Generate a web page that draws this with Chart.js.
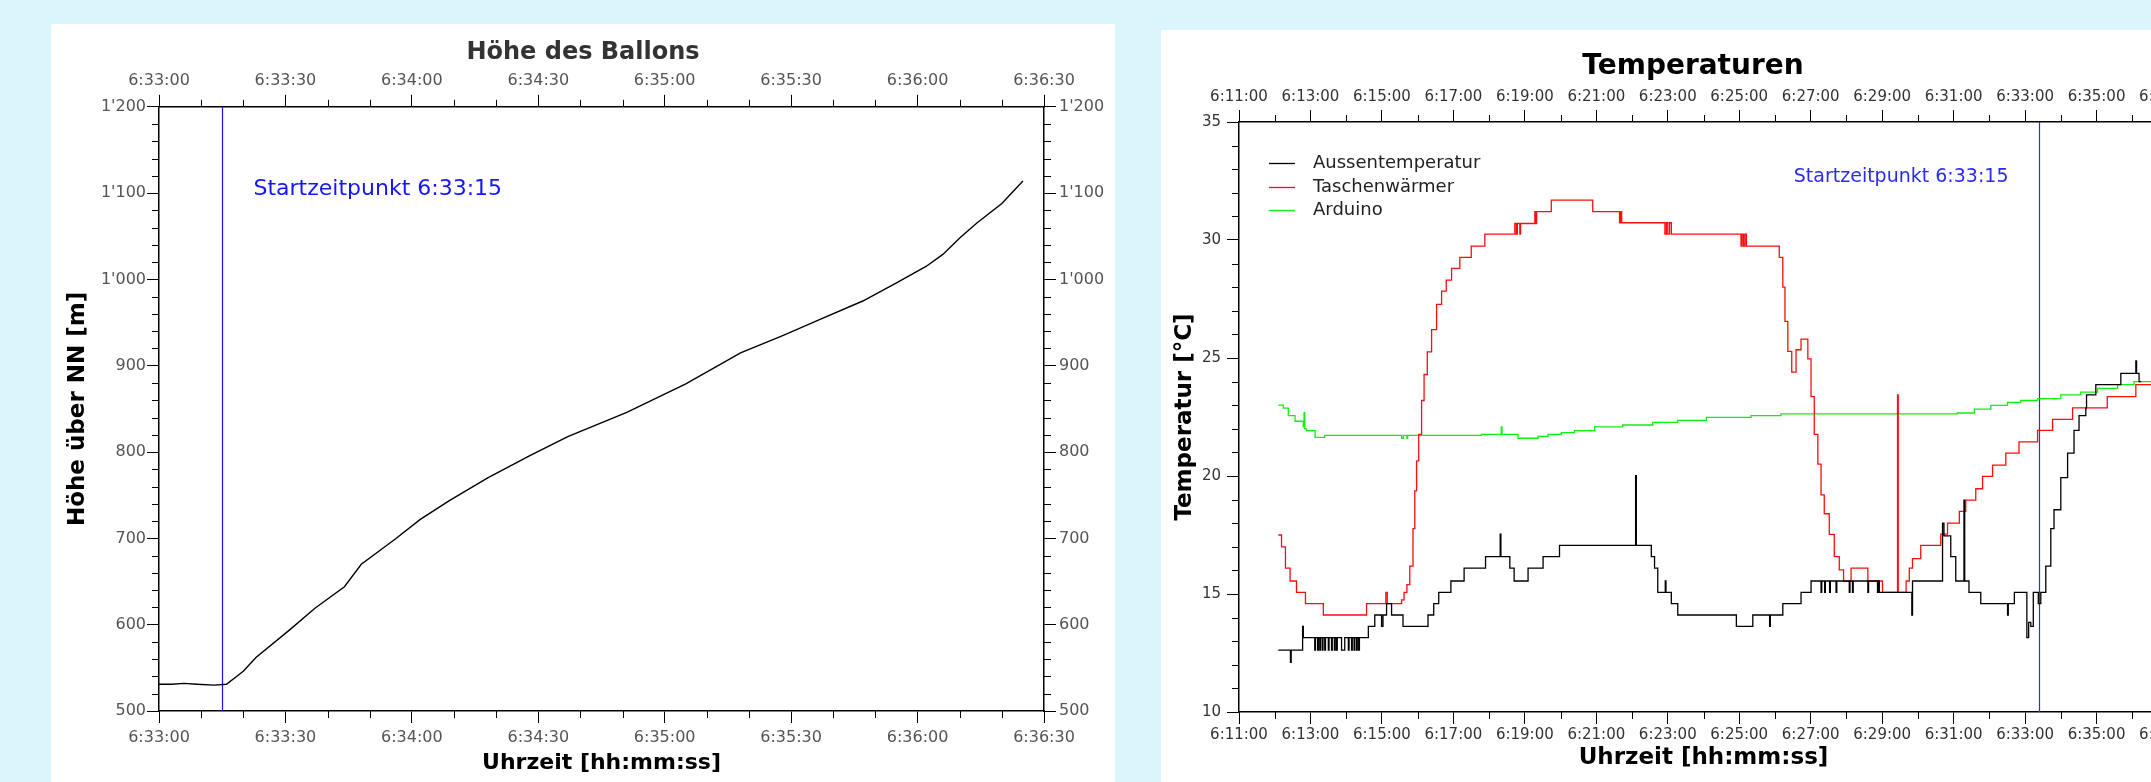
<!DOCTYPE html>
<html lang="de">
<head>
<meta charset="utf-8">
<title>Ballonflug</title>
<script src="https://cdn.jsdelivr.net/npm/chart.js@4.4.1/dist/chart.umd.min.js"></script>
<style>
html, body { margin: 0; padding: 0; width: 2151px; height: 782px; overflow: hidden; background: #dbf5fc; }
.panel { position: absolute; background: #fff; }
#p1 { left: 51px; top: 24px; width: 1064px; height: 758px; }
#p2 { left: 1161px; top: 30px; width: 1064px; height: 752px; }
canvas { display: block; }
</style>
</head>
<body>
<div class="panel" id="p1"><canvas id="hoeheChart" width="1064" height="758"></canvas></div>
<div class="panel" id="p2"><canvas id="tempChart" width="1064" height="752"></canvas></div>
<script>
// HÖHE DES BALLONS (Zeit in s nach 6:33:00)
const hoeheSek   = [0, 3, 6, 9, 13, 16, 20, 23, 31, 37, 44, 48, 56, 62, 69, 78, 88, 97, 111, 125, 138, 148, 157, 167, 175, 182, 186, 190, 194, 200, 205];
const hoeheMeter = [531, 531, 532, 531, 530, 531, 546, 562, 594, 619, 644, 670, 699, 722, 744, 770, 796, 818, 846, 879, 915, 935, 954, 975, 996, 1015, 1029, 1048, 1065, 1088, 1114];
const hoeheXTicks = ['6:33:00', '6:33:30', '6:34:00', '6:34:30', '6:35:00', '6:35:30', '6:36:00', '6:36:30'];
const hoeheYTicks = [500, 600, 700, 800, 900, 1000, 1100, 1200];
const startHoehe = '6:33:15';

// TEMPERATUREN ([Minuten nach 6:00, °C])
const aussentemperatur = [
  [12.10,12.62],[12.44,12.1],[12.46,12.62],[12.78,13.63],[12.8,13.15],
  [13.12,12.62],[13.14,13.15],[13.2,12.62],[13.22,13.15],[13.26,12.62],[13.28,13.15],[13.33,12.62],[13.35,13.15],
  [13.4,12.62],[13.42,13.15],[13.5,12.62],[13.52,13.15],[13.59,12.62],[13.61,13.15],[13.67,12.62],[13.69,13.15],
  [13.73,12.62],[13.75,13.15],[13.87,12.62],[13.96,13.15],[14.06,12.62],[14.08,13.15],[14.15,12.62],[14.17,13.15],
  [14.22,12.62],[14.24,13.15],[14.29,12.62],[14.31,13.15],[14.35,12.62],[14.37,13.15],
  [14.62,13.63],[14.8,14.11],[14.99,13.63],[15.03,14.11],[15.13,14.59],[15.27,14.11],[15.59,13.63],[16.29,14.11],
  [16.45,14.59],[16.59,15.07],[16.93,15.55],[17.3,16.1],[17.9,16.58],[18.31,17.54],[18.33,16.58],[18.58,16.1],
  [18.7,15.55],[19.09,16.1],[19.51,16.58],[19.97,17.06],[22.1,20.02],[22.12,17.06],[22.54,16.58],[22.63,16.1],
  [22.72,15.07],[22.93,15.55],[22.95,15.07],[23.1,14.59],[23.28,14.11],[24.92,13.63],[25.38,14.11],[25.85,13.63],
  [25.87,14.11],[26.22,14.59],[26.73,15.07],[27.01,15.55],[27.29,15.07],[27.31,15.55],[27.39,15.07],[27.41,15.55],
  [27.53,15.07],[27.55,15.55],[27.71,15.07],[27.73,15.55],[28.08,15.07],[28.1,15.55],[28.17,15.07],[28.19,15.55],
  [28.6,15.07],[28.62,15.55],[28.87,15.07],[28.89,15.55],[28.92,15.07],[29.83,14.11],[29.85,15.55],[30.69,18.0],
  [30.73,17.46],[30.92,16.58],[31.06,15.55],[31.29,18.98],[31.31,15.55],[31.43,15.07],[31.76,14.59],[32.51,14.11],
  [32.53,14.59],[32.7,15.07],[33.05,13.15],[33.1,13.8],[33.16,13.63],[33.23,15.07],[33.37,14.59],[33.44,15.07],
  [33.58,16.18],[33.72,17.77],[33.81,18.57],[34.0,19.93],[34.19,20.97],[34.37,21.93],[34.51,22.56],[34.7,22.89],
  [34.72,23.44],[34.98,23.87],[35.68,24.35],[36.1,24.88],[36.12,24.35],[36.19,24.0],[36.25,24.0]
];
const taschenwaermer = [
  [12.10,17.5],[12.19,17.0],[12.30,16.1],[12.43,15.55],[12.61,15.07],[12.86,14.59],[13.36,14.11],[14.57,14.59],
  [15.11,15.07],[15.15,14.59],[15.55,14.75],[15.62,15.07],[15.70,15.4],[15.78,16.18],[15.87,17.77],[15.92,19.37],
  [15.97,20.64],[16.03,21.76],[16.11,23.2],[16.18,24.3],[16.27,25.26],[16.39,26.2],[16.53,27.27],[16.67,27.83],
  [16.8,28.3],[16.95,28.8],[17.18,29.26],[17.5,29.74],[17.88,30.25],[18.72,30.7],[18.76,30.25],[18.79,30.7],
  [18.86,30.25],[18.88,30.7],[19.28,31.2],[19.31,30.7],[19.33,31.2],[19.74,31.69],[20.9,31.2],[21.65,30.73],
  [21.68,31.2],[21.71,30.73],[22.92,30.25],[22.96,30.73],[23.0,30.25],[23.05,30.73],[23.1,30.25],[25.05,29.74],
  [25.08,30.25],[25.12,29.74],[25.16,30.25],[25.2,29.74],[26.12,29.26],[26.22,28.0],[26.28,26.55],[26.36,25.28],
  [26.47,24.4],[26.59,25.35],[26.73,25.8],[26.92,24.96],[27.01,23.36],[27.1,21.76],[27.2,20.5],[27.29,19.2],
  [27.38,18.4],[27.52,17.53],[27.66,16.58],[27.8,16.02],[27.92,15.54],[28.13,16.1],[28.6,15.55],[29.01,15.07],
  [29.43,23.44],[29.45,15.07],[29.67,15.55],[29.76,16.1],[29.85,16.5],[30.08,17.06],[30.64,17.54],[30.83,18.0],
  [31.16,18.5],[31.34,18.98],[31.62,19.46],[31.81,19.98],[32.09,20.46],[32.46,20.97],[32.83,21.45],[33.35,21.93],
  [33.77,22.4],[34.33,22.89],[35.3,23.36],[36.1,23.87],[36.6,23.87]
];
const arduino = [
  [12.10,23.0],[12.24,22.88],[12.38,22.56],[12.57,22.32],[12.8,22.08],[12.82,22.68],[12.84,22.0],[12.89,21.92],
  [13.13,21.64],[13.4,21.72],[15.55,21.6],[15.6,21.72],[15.7,21.6],[15.72,21.72],[17.78,21.76],[18.34,22.08],
  [18.36,21.76],[18.81,21.6],[19.37,21.68],[19.65,21.76],[20.02,21.84],[20.39,21.92],[20.95,22.08],[21.74,22.16],
  [22.58,22.27],[23.28,22.36],[24.08,22.48],[25.33,22.56],[26.17,22.63],[31.11,22.67],[31.58,22.83],[32.04,22.99],
  [32.51,23.12],[32.88,23.2],[33.35,23.28],[34.0,23.44],[34.56,23.55],[35.03,23.71],[35.59,23.87],[36.05,24.0],
  [36.6,24.06]
];
const tempXTicks = ['6:11:00', '6:13:00', '6:15:00', '6:17:00', '6:19:00', '6:21:00', '6:23:00', '6:25:00',
  '6:27:00', '6:29:00', '6:31:00', '6:33:00', '6:35:00', '6:37:00'];
const tempYTicks = [10, 15, 20, 25, 30, 35];
const startTempMin = 33.38;

const FONT = '"DejaVu Sans", sans-serif';

function sekunden(txt) {
  const [h, m, s] = txt.split(':').map(Number);
  return h * 3600 + m * 60 + s;
}
function zeit(sek) {
  const h = Math.floor(sek / 3600), m = Math.floor(sek % 3600 / 60), s = Math.round(sek % 60);
  return h + ':' + String(m).padStart(2, '0') + ':' + String(s).padStart(2, '0');
}
function tausender(v) {
  return v >= 1000 ? Math.floor(v / 1000) + "'" + String(v % 1000).padStart(3, '0') : String(v);
}

function achse(pos, werte, format, groesse, f) {
  const horizontal = pos === 'top' || pos === 'bottom';
  return {
    type: 'linear', position: pos,
    min: werte[0], max: werte[werte.length - 1],
    afterBuildTicks: s => { s.ticks = werte.map(v => ({ value: v })); },
    afterFit: s => { if (horizontal) s.height = groesse; else s.width = groesse; },
    border: { display: true, color: '#000', width: 1.5 },
    grid: { drawOnChartArea: false, drawTicks: true, tickLength: f.tick, tickColor: '#000', tickWidth: 1 },
    ticks: { autoSkip: false, maxRotation: 0, padding: f.pad, color: f.farbe,
             font: { family: FONT, size: f.size }, callback: v => format(v) },
    title: f.titel ? { display: true, text: f.titel, color: '#000',
             font: { family: FONT, size: f.titelSize, weight: 'bold' }, padding: f.titelPad } : { display: false }
  };
}

// kleine Zwischenstriche an den Achsen
const zwischenStriche = {
  id: 'zwischenStriche',
  afterDraw(chart, args, o) {
    const { ctx, chartArea: a } = chart;
    ctx.save();
    ctx.strokeStyle = '#000';
    ctx.lineWidth = 1;
    Object.keys(o.schritt).forEach(id => {
      const sc = chart.scales[id];
      const major = sc.ticks.map(t => t.value);
      const step = o.schritt[id];
      for (let v = sc.min; v <= sc.max + 1e-9; v += step) {
        if (major.some(m => Math.abs(m - v) < 1e-6)) continue;
        const p = Math.round(sc.getPixelForValue(v)) + 0.5;
        ctx.beginPath();
        if (sc.position === 'bottom') { ctx.moveTo(p, a.bottom); ctx.lineTo(p, a.bottom + o.len); }
        if (sc.position === 'top') { ctx.moveTo(p, a.top); ctx.lineTo(p, a.top - o.len); }
        if (sc.position === 'left') { ctx.moveTo(a.left, p); ctx.lineTo(a.left - o.len, p); }
        if (sc.position === 'right') { ctx.moveTo(a.right, p); ctx.lineTo(a.right + o.len, p); }
        ctx.stroke();
      }
    });
    ctx.restore();
  }
};

// blaue Linie für den Startzeitpunkt
const startMarke = {
  id: 'startMarke',
  beforeDatasetsDraw(chart, args, o) {
    const { ctx, chartArea: a } = chart;
    const x = Math.round(chart.scales.x.getPixelForValue(o.zeit)) + 0.5;
    ctx.save();
    ctx.strokeStyle = o.farbe;
    ctx.lineWidth = 1.2;
    ctx.beginPath(); ctx.moveTo(x, a.top); ctx.lineTo(x, a.bottom); ctx.stroke();
    ctx.fillStyle = o.farbe;
    ctx.font = o.font;
    ctx.textBaseline = 'middle';
    ctx.textAlign = o.links ? 'right' : 'left';
    ctx.fillText(o.text, x + (o.links ? -o.abstand : o.abstand), a.top + o.dy);
    ctx.restore();
  }
};

// Legende im Diagramm oben links
const innenLegende = {
  id: 'innenLegende',
  afterDraw(chart, args, o) {
    if (!o.zeigen) return;
    const { ctx, chartArea: a } = chart;
    ctx.save();
    ctx.font = '18px ' + FONT;
    ctx.textBaseline = 'middle';
    chart.data.datasets.forEach((ds, i) => {
      const y = Math.round(a.top + 41 + i * 23.5) + 0.5;
      ctx.strokeStyle = ds.borderColor;
      ctx.lineWidth = 1.3;
      ctx.beginPath(); ctx.moveTo(a.left + 30, y); ctx.lineTo(a.left + 56, y); ctx.stroke();
      ctx.fillStyle = '#222';
      ctx.fillText(ds.label, a.left + 74, y);
    });
    ctx.restore();
  }
};

// ---------- Höhe ----------
const hx = hoeheXTicks.map(sekunden);
const hoeheStil = { tick: 12, size: 16, farbe: '#555' };
new Chart(document.getElementById('hoeheChart'), {
  type: 'line',
  data: {
    datasets: [{
      label: 'Höhe',
      data: hoeheSek.map((s, i) => ({ x: hx[0] + s, y: hoeheMeter[i] })),
      borderColor: '#000', borderWidth: 1.4, pointRadius: 0, tension: 0, fill: false
    }]
  },
  options: {
    responsive: false, animation: false,
    layout: { padding: 0 },
    scales: {
      x: achse('bottom', hx, zeit, 71, Object.assign({ pad: 5, titel: 'Uhrzeit [hh:mm:ss]', titelSize: 22, titelPad: { top: 0, bottom: 6 } }, hoeheStil)),
      xOben: achse('top', hx, zeit, 40, Object.assign({ pad: 4 }, hoeheStil)),
      y: achse('left', hoeheYTicks, tausender, 108, Object.assign({ pad: 1, titel: 'Höhe über NN [m]', titelSize: 23, titelPad: { top: 13, bottom: 0 } }, hoeheStil)),
      yRechts: achse('right', hoeheYTicks, tausender, 71, Object.assign({ pad: 3 }, hoeheStil))
    },
    plugins: {
      legend: { display: false },
      tooltip: { enabled: false },
      title: { display: true, text: 'Höhe des Ballons', color: '#333',
               font: { family: FONT, size: 24, weight: 'bold' }, padding: { top: 14, bottom: 0 } },
      zwischenStriche: { schritt: { x: 10, xOben: 10, y: 20, yRechts: 20 }, len: 7 },
      startMarke: { zeit: sekunden(startHoehe), text: 'Startzeitpunkt ' + startHoehe, farbe: '#1515ff',
                    font: '22px ' + FONT, links: false, abstand: 31, dy: 82 },
      innenLegende: { zeigen: false }
    }
  },
  plugins: [zwischenStriche, startMarke, innenLegende]
});

// ---------- Temperaturen ----------
const tx = tempXTicks.map(sekunden);
const minSek = m => 6 * 3600 + m * 60;
const tempStil = { tick: 12, size: 15, farbe: '#333' };
function reihe(name, werte, farbe) {
  return { label: name, data: werte.map(p => ({ x: minSek(p[0]), y: p[1] })),
           borderColor: farbe, borderWidth: 1.3, pointRadius: 0, stepped: true, fill: false };
}
new Chart(document.getElementById('tempChart'), {
  type: 'line',
  data: {
    datasets: [
      reihe('Aussentemperatur', aussentemperatur, '#000000'),
      reihe('Taschenwärmer', taschenwaermer, '#ff0d0d'),
      reihe('Arduino', arduino, '#0ef00e')
    ]
  },
  options: {
    responsive: false, animation: false,
    layout: { padding: 0 },
    scales: {
      x: achse('bottom', tx, zeit, 70, Object.assign({ pad: 2, titel: 'Uhrzeit [hh:mm:ss]', titelSize: 23, titelPad: { top: 0, bottom: 10 } }, tempStil)),
      xOben: achse('top', tx, zeit, 38.4, Object.assign({ pad: 3.5 }, tempStil)),
      y: achse('left', tempYTicks, String, 78, Object.assign({ pad: 6, titel: 'Temperatur [°C]', titelSize: 23, titelPad: { top: 10, bottom: 0 } }, tempStil)),
      yRechts: achse('right', tempYTicks, String, 57, Object.assign({ pad: 3 }, tempStil))
    },
    plugins: {
      legend: { display: false },
      tooltip: { enabled: false },
      title: { display: true, text: 'Temperaturen', color: '#000',
               font: { family: FONT, size: 28, weight: 'bold' }, padding: { top: 20, bottom: 0 } },
      zwischenStriche: { schritt: { x: 60, xOben: 60, y: 1, yRechts: 1 }, len: 7 },
      startMarke: { zeit: minSek(startTempMin), text: 'Startzeitpunkt ' + startHoehe, farbe: '#2a2aff',
                    font: '19px ' + FONT, links: true, abstand: 31, dy: 55 },
      innenLegende: { zeigen: true }
    }
  },
  plugins: [zwischenStriche, startMarke, innenLegende]
});
</script>
</body>
</html>
